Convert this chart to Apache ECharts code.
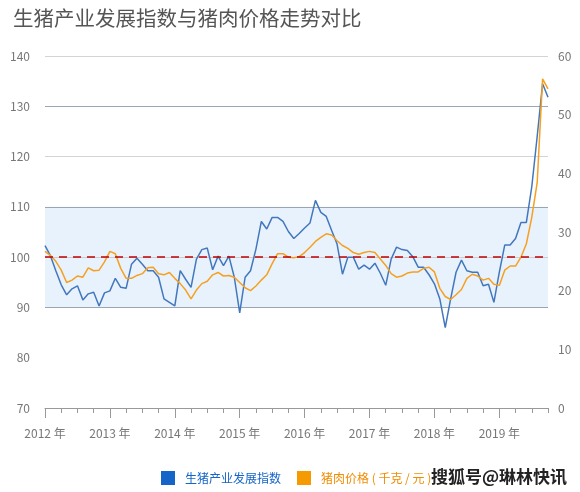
<!DOCTYPE html>
<html>
<head>
<meta charset="utf-8">
<title>生猪产业发展指数与猪肉价格走势对比</title>
<script src="https://cdn.jsdelivr.net/npm/echarts@6/dist/echarts.min.js"></script>
<style>
html, body { margin: 0; padding: 0; background: #fff; }
#chart { width: 580px; height: 492px; }
</style>
</head>
<body>
<div id="chart"></div>
<script>
// 年份标签（每年一月显示）
const years = ['2012 年', '2013 年', '2014 年', '2015 年', '2016 年', '2017 年', '2018 年', '2019 年'];
// 2012.01 - 2019.10 月度
const monthCount = 94;

// 生猪产业发展指数（左轴）
const pigIndex = [
  102.3, 100.3, 97.3, 94.5, 92.5, 93.7, 94.3, 91.5, 92.7, 93.0, 90.3, 92.9,
  93.3, 95.8, 94.0, 93.8, 98.6, 99.8, 98.6, 97.3, 97.3, 96.0, 91.7, 91.0,
  90.3, 97.3, 95.6, 94.0, 99.6, 101.5, 101.8, 97.5, 100.2, 98.3, 100.2, 96.0,
  88.9, 96.0, 97.3, 101.6, 107.1, 105.6, 107.9, 107.9, 107.1, 105.1, 103.7, 104.7,
  105.8, 106.8, 111.3, 108.9, 108.1, 105.3, 102.6, 96.6, 100.0, 100.0, 97.6, 98.4,
  97.6, 98.8, 96.8, 94.4, 99.6, 102.0, 101.5, 101.3, 100.1, 98.0, 98.0, 96.5,
  94.7, 91.7, 86.0, 91.7, 97.0, 99.4, 97.3, 97.0, 97.0, 94.3, 94.6, 91.0,
  97.0, 102.4, 102.4, 103.7, 106.9, 106.9, 114.0, 124.0, 134.5, 131.8
];

// 猪肉价格（右轴）
const porkPrice = [
  26.7, 26.0, 25.0, 23.5, 21.4, 21.8, 22.5, 22.3, 23.9, 23.4, 23.5, 24.9,
  26.7, 26.3, 23.8, 22.1, 22.1, 22.6, 22.9, 23.9, 24.0, 22.9, 22.7, 23.1,
  22.1, 21.2, 20.1, 18.6, 20.1, 21.2, 21.6, 22.7, 23.1, 22.5, 22.6, 22.3,
  21.4, 20.5, 20.0, 20.8, 21.8, 22.7, 24.6, 26.3, 26.3, 25.7, 25.6, 25.8,
  26.5, 27.4, 28.4, 29.1, 29.7, 29.5, 28.5, 27.7, 27.2, 26.5, 26.2, 26.5,
  26.7, 26.5, 25.4, 24.3, 22.9, 22.3, 22.5, 23.0, 23.2, 23.2, 23.8, 24.0,
  23.2, 20.4, 19.0, 18.5, 19.3, 20.2, 22.1, 22.8, 22.5, 21.8, 22.1, 21.1,
  20.9, 23.5, 24.2, 24.2, 25.7, 28.0, 32.5, 38.4, 56.1, 54.4
];

const months = [];
for (let i = 0; i < monthCount; i++) {
  months.push(years[Math.floor(i / 12)] + (i % 12 + 1) + '月');
}

const font = '"Noto Sans CJK SC", "Noto Sans", sans-serif';
let myChart = echarts.init(document.getElementById('chart'));
myChart.setOption({
  animation: false,
  textStyle: { fontFamily: font },
  title: {
    text: '生猪产业发展指数与猪肉价格走势对比',
    left: 8,
    top: 3,
    textStyle: { fontSize: 20.5, fontWeight: 'normal', color: '#555', fontFamily: font }
  },
  grid: { left: 45, right: 32, top: 56, bottom: 84 },
  legend: {
    left: 156,
    top: 466,
    itemWidth: 14,
    itemHeight: 14,
    itemGap: 16,
    icon: 'rect',
    data: [
      { name: '生猪产业发展指数', itemStyle: { color: '#1565c8' }, textStyle: { color: '#1565c8' } },
      { name: '猪肉价格 ( 千克 / 元 )', itemStyle: { color: '#f59a00' }, textStyle: { color: '#f08c00' } }
    ],
    textStyle: { fontSize: 12, fontFamily: font, padding: [0, 0, 0, 5] }
  },
  xAxis: [
    {
      type: 'category',
      data: months,
      boundaryGap: false,
      axisLine: { lineStyle: { color: '#999' } },
      axisTick: { interval: (i) => i % 3 === 0, length: 5, lineStyle: { color: '#999' } },
      axisLabel: {
        interval: (i) => i % 12 === 0,
        formatter: (v) => v.slice(0, 6),
        color: '#777',
        fontSize: 12,
        margin: 19
      },
      splitLine: { show: false }
    },
    {
      type: 'category',
      data: months,
      position: 'bottom',
      boundaryGap: false,
      axisLine: { show: false },
      axisTick: { interval: (i) => i % 12 === 0, length: 10, lineStyle: { color: '#999' } },
      axisLabel: { show: false },
      splitLine: { show: false }
    }
  ],
  yAxis: [
    {
      type: 'value',
      min: 70,
      max: 140,
      interval: 10,
      axisLine: { show: false },
      axisTick: { show: false },
      axisLabel: { color: '#777', fontSize: 12, margin: 15 },
      splitLine: {
        show: true,
        showMinLine: true,
        lineStyle: { color: ['transparent', 'transparent', '#9aa6b2', '#cccccc', '#9aa6b2', '#d4d4d4', '#9aa6b2', '#d4d4d4'] }
      },
      splitArea: {
        show: true,
        areaStyle: { color: ['transparent', 'transparent', '#e8f2fc', '#e8f2fc', 'transparent', 'transparent', 'transparent'] }
      }
    },
    {
      type: 'value',
      min: 0,
      max: 60,
      interval: 10,
      axisLine: { show: false },
      axisTick: { show: false },
      axisLabel: { color: '#777', fontSize: 12, margin: 10 },
      splitLine: { show: false }
    }
  ],
  series: [
    {
      name: '生猪产业发展指数',
      type: 'line',
      data: pigIndex,
      yAxisIndex: 0,
      showSymbol: false,
      lineStyle: { color: '#4377bd', width: 1.5 },
      itemStyle: { color: '#4377bd' },
      markLine: {
        silent: true,
        symbol: 'none',
        label: { show: false },
        lineStyle: { color: '#c00000', width: 1.5, type: [8, 6] },
        data: [{ yAxis: 100 }]
      }
    },
    {
      name: '猪肉价格 ( 千克 / 元 )',
      type: 'line',
      data: porkPrice,
      yAxisIndex: 1,
      showSymbol: false,
      lineStyle: { color: '#f5a020', width: 1.5 },
      itemStyle: { color: '#f5a020' }
    }
  ],
  graphic: [
    {
      type: 'text',
      right: 12,
      top: 467,
      style: {
        text: '搜狐号@琳林快讯',
        fill: '#222',
        stroke: '#fff',
        lineWidth: 2,
        font: 'bold 17px ' + font
      }
    }
  ]
});
</script>
</body>
</html>
